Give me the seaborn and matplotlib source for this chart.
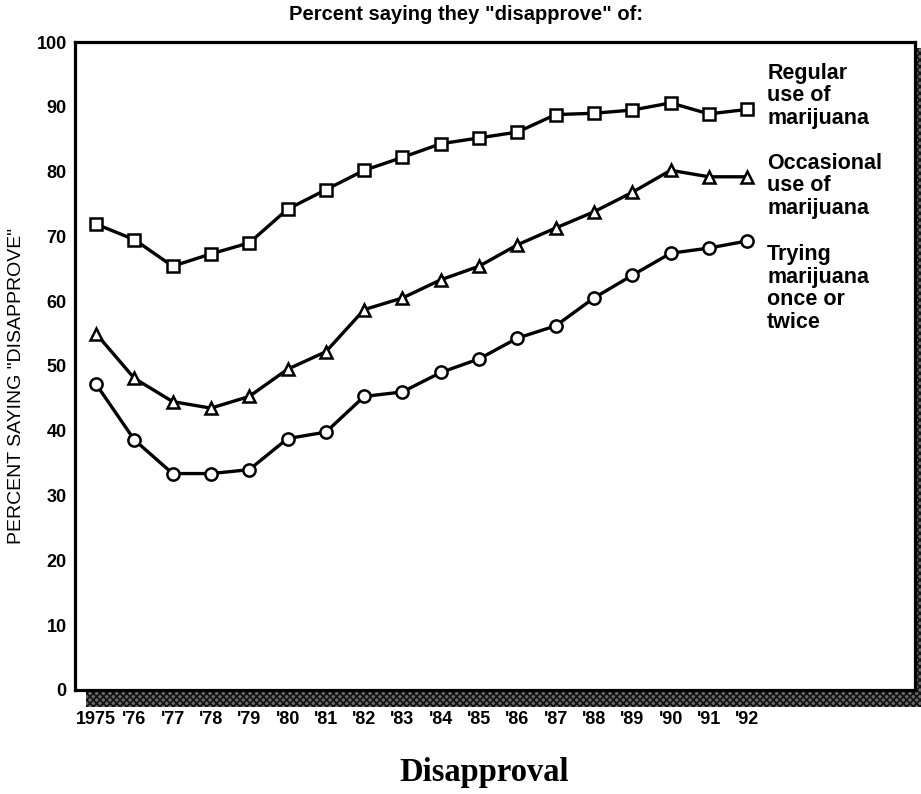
import pandas as pd
import matplotlib.pyplot as plt
import seaborn as sns
from matplotlib.patches import Rectangle

# Values
years = list(range(1975, 1993))
year_labels = ["1975", "'76", "'77", "'78", "'79", "'80", "'81", "'82", "'83",
               "'84", "'85", "'86", "'87", "'88", "'89", "'90", "'91", "'92"]
regular = [71.9, 69.5, 65.4, 67.3, 69.0, 74.2, 77.2, 80.2, 82.2,
           84.3, 85.2, 86.1, 88.8, 89.0, 89.5, 90.6, 88.9, 89.6]
occasional = [55.0, 48.1, 44.5, 43.5, 45.3, 49.5, 52.2, 58.7, 60.5,
              63.3, 65.4, 68.7, 71.3, 73.8, 76.8, 80.2, 79.2, 79.2]
trying = [47.2, 38.6, 33.4, 33.4, 34.0, 38.8, 39.8, 45.3, 46.0,
          49.0, 51.1, 54.3, 56.2, 60.5, 64.0, 67.4, 68.2, 69.3]
series_names = ["Regular\nuse of\nmarijuana",
                "Occasional\nuse of\nmarijuana",
                "Trying\nmarijuana\nonce or\ntwice"]

df = pd.concat([
    pd.DataFrame({"year": years, "pct": vals, "series": name})
    for name, vals in zip(series_names, [regular, occasional, trying])
])

sns.set_style("white")
plt.rcParams["font.family"] = ["Liberation Sans", "DejaVu Sans"]
plt.rcParams["text.color"] = "black"
plt.rcParams["xtick.color"] = "black"
plt.rcParams["ytick.color"] = "black"
plt.rcParams["hatch.linewidth"] = 1.2

fig = plt.figure(figsize=(9.21, 7.94), dpi=100)
ax = fig.add_axes([0.0814, 0.1310, 0.9121, 0.8161])

sns.lineplot(data=df, x="year", y="pct", style="series",
             markers={series_names[0]: "s", series_names[1]: "^", series_names[2]: "o"},
             dashes=False, color="black", linewidth=2.4, markersize=8.8,
             markerfacecolor="white", markeredgecolor="black", markeredgewidth=1.8,
             legend=False, ax=ax)

ax.set_xlim(1974.45, 1996.38)
ax.set_ylim(0, 100)
ax.set_xticks(years)
ax.set_xticklabels(year_labels)
ax.set_yticks(range(0, 101, 10))
ax.tick_params(axis="both", direction="in", length=12, width=2, labelsize=13)
ax.tick_params(axis="x", pad=15)
ax.tick_params(axis="y", pad=6)
for lab in ax.get_xticklabels() + ax.get_yticklabels():
    lab.set_fontweight("bold")
for sp in ax.spines.values():
    sp.set_linewidth(2.3)
    sp.set_color("black")
ax.set_xlabel("")
ax.set_ylabel("")

# drop shadow along bottom and right edge
shadow_kw = dict(transform=ax.transAxes, clip_on=False, facecolor="#6a6a6a",
                 edgecolor="#111111", hatch="xxxxx", linewidth=0, zorder=0)
ax.add_patch(Rectangle((0.013, -0.026), 0.994, 0.026, **shadow_kw))
ax.add_patch(Rectangle((1.0, -0.026), 0.007, 1.017, **shadow_kw))

# series labels
for name, ytop in zip(series_names, [96.8, 82.9, 68.8]):
    ax.text(1992.52, ytop, name, fontsize=15.5, fontweight="bold",
            va="top", ha="left", linespacing=1.1)

fig.text(466 / 921, 1 - 14 / 794, 'Percent saying they "disapprove" of:',
         ha="center", va="center", fontsize=14.5, fontweight="bold")
fig.text(17 / 921, 1 - 386 / 794, 'PERCENT SAYING "DISAPPROVE"',
         ha="center", va="center", rotation=90, fontsize=14)
fig.text(484 / 921, 1 - 772 / 794, "Disapproval", ha="center", va="center",
         fontsize=23.5, fontweight="bold", family="Liberation Serif")

fig.savefig("out.png", dpi=100)
